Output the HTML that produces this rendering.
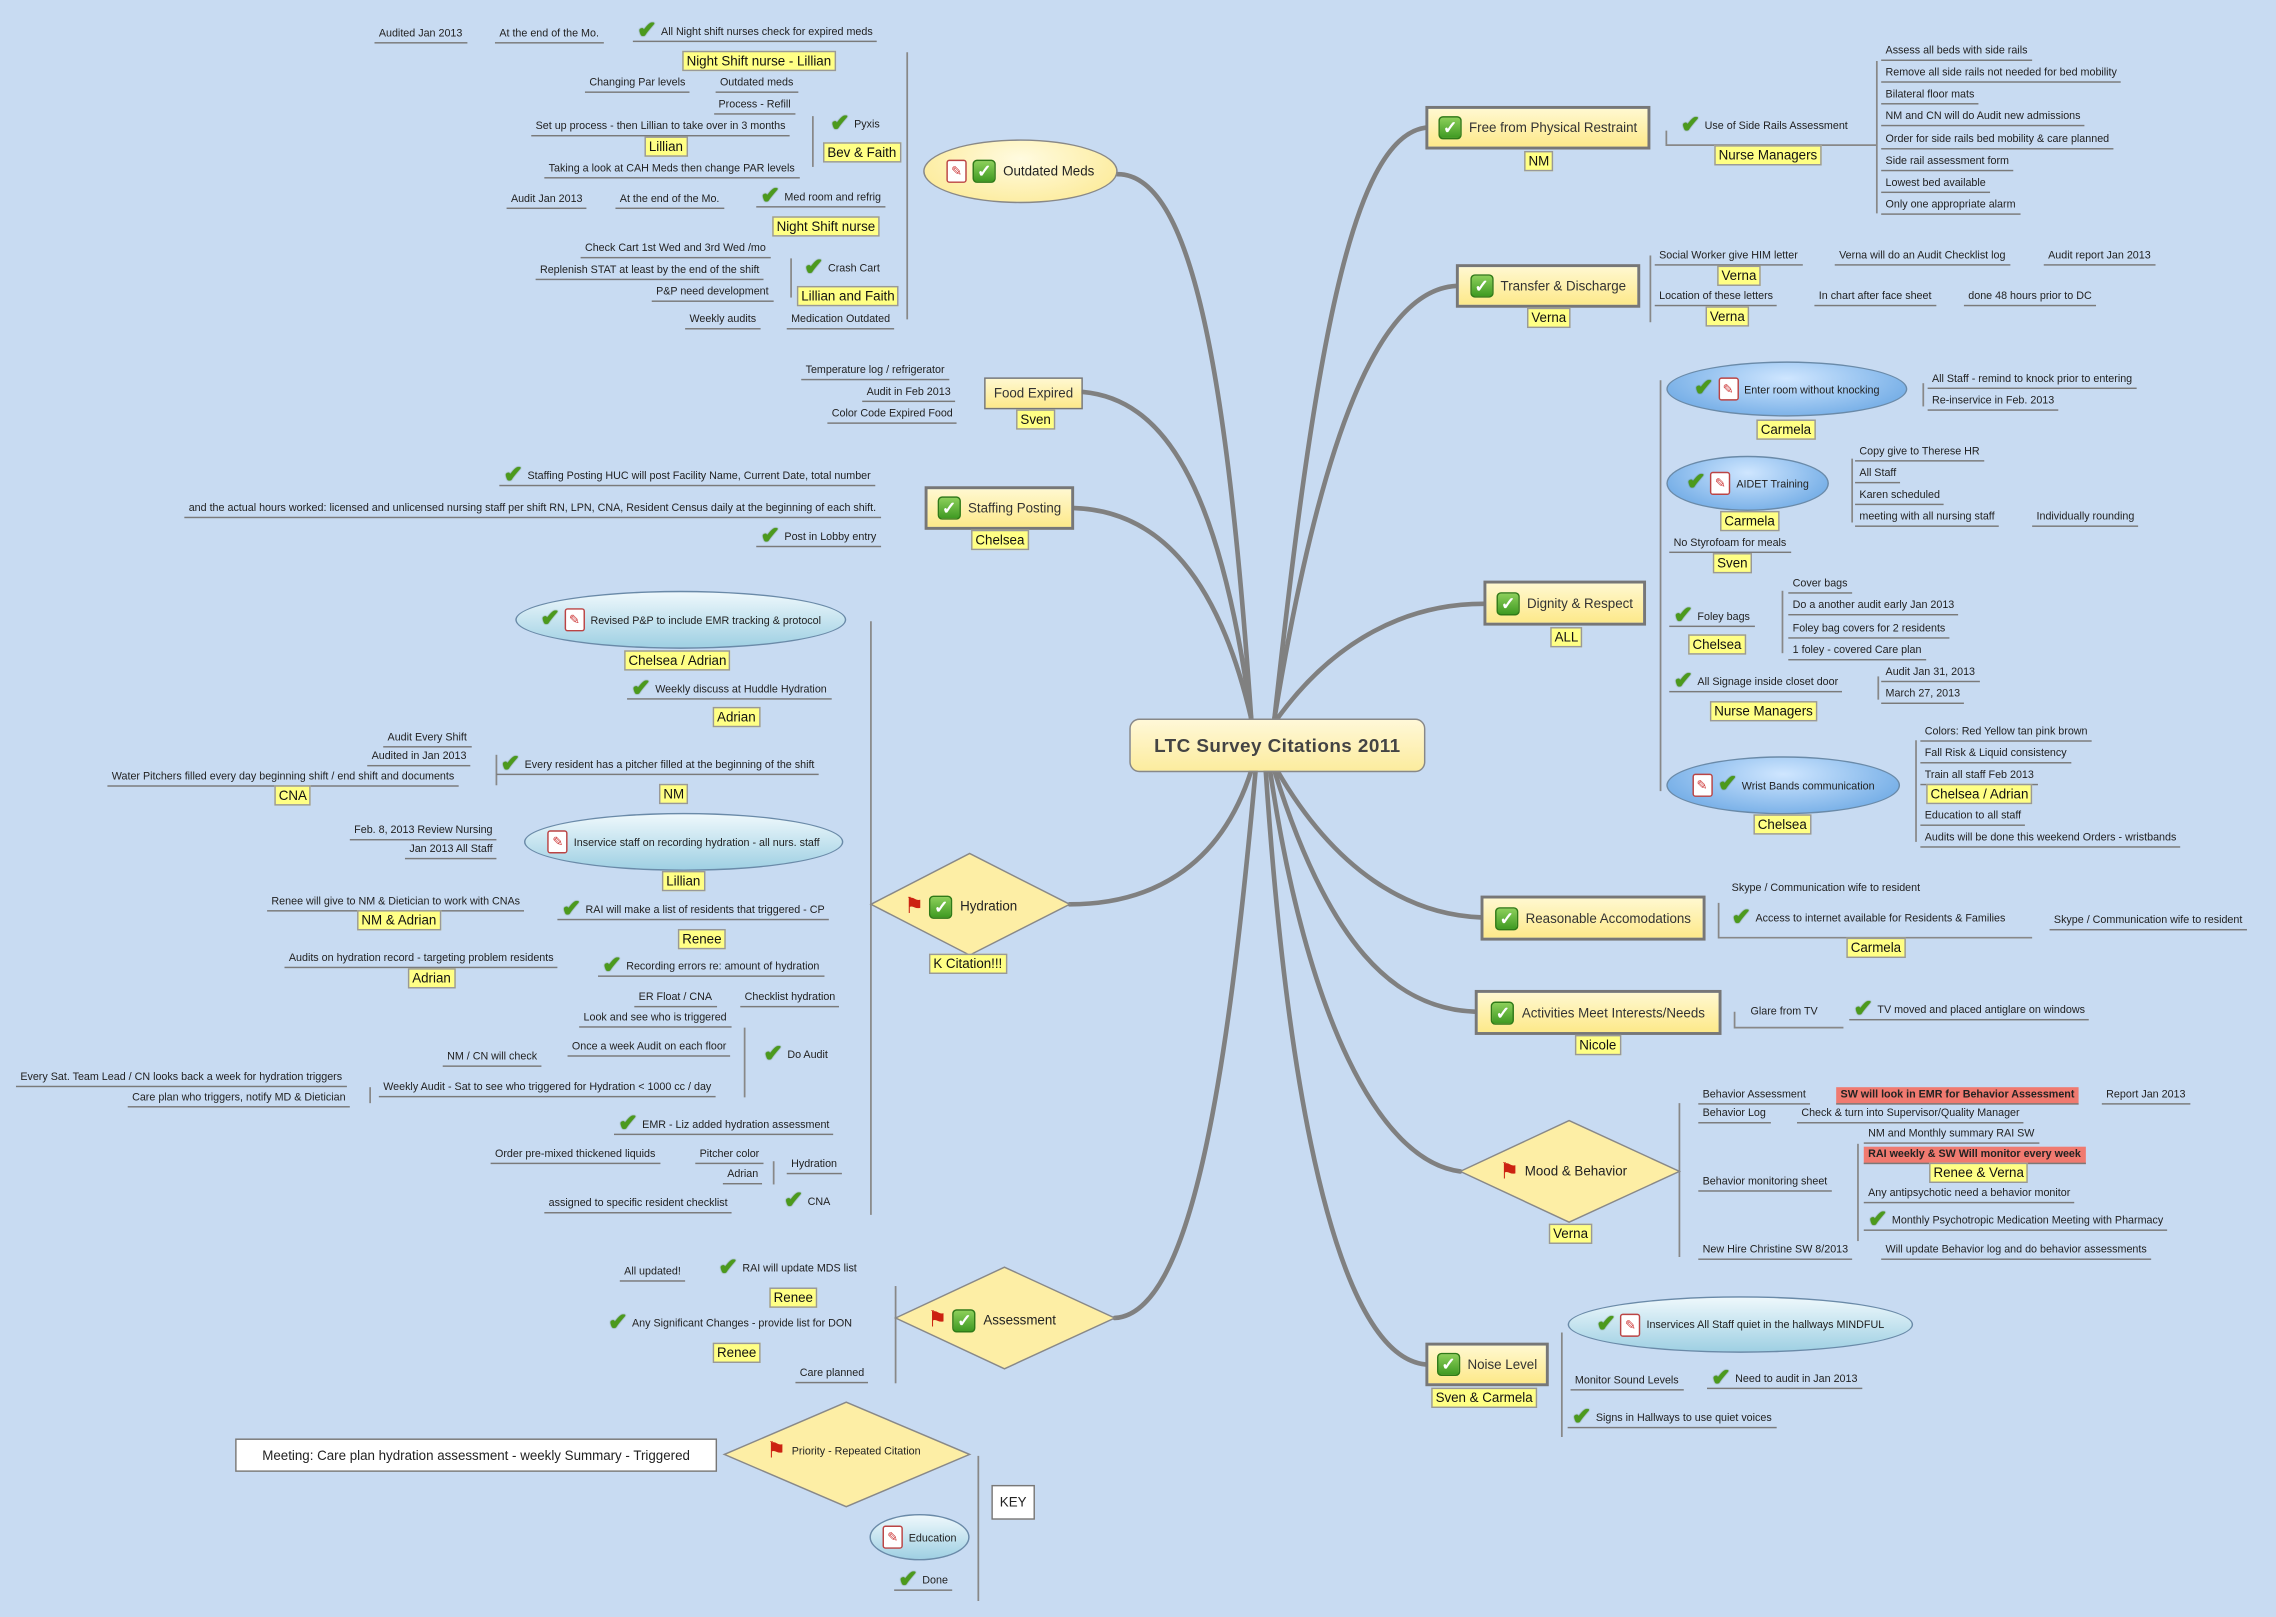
<!DOCTYPE html>
<html><head><meta charset="utf-8">
<style>
html,body{margin:0;padding:0;}
body{width:2276px;height:1617px;overflow:hidden;background:#c8dbf2;font-family:"Liberation Sans",sans-serif;}
#w{position:absolute;left:0;top:0;width:1568px;height:1114px;transform:scale(1.45153);transform-origin:0 0;}
svg.bg{position:absolute;left:0;top:0;}
.t{position:absolute;font-size:7.4px;line-height:10px;white-space:nowrap;color:#222;border-bottom:1px solid #7a7a7a;padding:0 3px 1px 3px;}
.n{border-bottom:none;}
.y{position:absolute;font-size:9.2px;line-height:12px;white-space:nowrap;color:#111;background:#ffff85;border:1px solid #999;padding:0 2px;}
.m{position:absolute;box-sizing:border-box;border:2px solid #777;background:linear-gradient(#fff8d0,#fde98a);font-size:9.2px;color:#333;display:flex;align-items:center;justify-content:center;white-space:nowrap;}
.c{position:absolute;box-sizing:border-box;border:1.5px solid #888;border-radius:7px;background:linear-gradient(#fff8d8,#fcec9e);font-size:13px;font-weight:bold;color:#444;display:flex;align-items:center;justify-content:center;letter-spacing:.3px;}
.ck{display:inline-block;color:#4c9a1c;font-size:16px;font-weight:bold;line-height:10px;vertical-align:middle;margin-right:3px;text-shadow:0 0 1px #2a6010;}
.bx{display:inline-block;width:14px;height:14px;border-radius:3px;background:linear-gradient(#8ccf5a,#3f9a22);color:#fff;font-size:12px;line-height:14px;text-align:center;font-weight:bold;vertical-align:middle;margin-right:5px;border:1px solid #2f7a18;}
.nt{display:inline-block;width:12px;height:14px;background:#fff;border:1px solid #b44;border-radius:2px;vertical-align:middle;margin-right:4px;color:#c33;font-size:9px;line-height:14px;text-align:center;}
.fl{display:inline-block;color:#c21;font-size:15px;line-height:10px;vertical-align:middle;margin-right:4px;}
.bb{position:absolute;box-sizing:border-box;border:1px solid #6a8aa8;border-radius:50%;display:flex;align-items:center;justify-content:center;font-size:7.4px;white-space:nowrap;color:#222;}
.bl{background:radial-gradient(ellipse at 50% 30%,#cfe6ff,#5d9fe0);}
.bc{background:linear-gradient(#eef8fc,#9fd0e3);}
.red{background:#f07a70;}
.k{position:absolute;background:#fff;border:1px solid #777;font-size:9.2px;display:flex;align-items:center;justify-content:center;white-space:nowrap;color:#222;}
</style></head><body><div id="w">
<svg class="bg" width="1568" height="1114" viewBox="0 0 1568 1114">
<g fill="none" stroke="#808080" stroke-width="3.2" stroke-linecap="round">
<path d="M878,495 C905,250 930,95 982,88"/>
<path d="M878,495 C910,300 950,200 1003,197"/>
<path d="M880,495 C920,440 970,416 1022,416"/>
<path d="M880,531 C920,600 970,630 1020,632"/>
<path d="M878,531 C915,650 960,695 1016,697"/>
<path d="M875,531 C900,700 950,800 1006,807"/>
<path d="M872,531 C890,800 930,935 982,940"/>
<path d="M862,495 C845,250 820,120 770,120"/>
<path d="M862,495 C840,330 800,275 746,270"/>
<path d="M862,495 C840,400 800,352 740,350"/>
<path d="M862,531 C840,600 790,623 737,623"/>
<path d="M865,531 C845,750 820,905 768,908"/>
</g>
<g fill="none" stroke="#888" stroke-width="1.2">
<path d="M625,36 V220"/><path d="M560,80 V115"/><path d="M545,178 V205"/>
<path d="M1293,42 V147"/><path d="M1148,90 V100 H1293"/>
<path d="M1137,176 V222"/><path d="M1144,262 V545"/>
<path d="M1276,316 V360"/><path d="M1228,407 V450"/><path d="M1294,466 V482"/><path d="M1320,510 V580"/><path d="M1325,264 V280"/>
<path d="M1184,622 V646 H1400"/><path d="M1195,697 V708 H1270"/>
<path d="M1157,760 V866"/><path d="M1280,788 V855"/>
<path d="M1076,918 V990"/>
<path d="M600,428 V837"/><path d="M513,708 V756"/><path d="M255,749 V760"/><path d="M533,800 V816"/><path d="M342,520 V541"/>
<path d="M617,886 V953"/><path d="M674,1003 V1103"/>
</g>
<g stroke="#888" stroke-width="1" fill="#fdeea5">
<polygon points="600,623 668,588 737,623 668,658"/>
<polygon points="1006,807 1081,772 1157,807 1081,842"/>
<polygon points="617,908 692,873 768,908 692,943"/>
<polygon points="499,1002 583,966 668,1002 583,1038"/>
</g>
</svg>

<div class="c" style="left:778px;top:495px;width:204px;height:37px">LTC Survey Citations 2011</div>

<div class="m" style="left:982px;top:73px;width:155px;height:30px"><span class="bx">✓</span>Free from Physical Restraint</div>
<div class="y" style="left:1050px;top:104px">NM</div>
<div class="t n" style="left:1155px;top:82px"><span class="ck">✔</span>Use of Side Rails Assessment</div>
<div class="y" style="left:1181px;top:100px">Nurse Managers</div>
<div class="t" style="left:1296px;top:30px">Assess all beds with side rails</div>
<div class="t" style="left:1296px;top:45px">Remove all side rails not needed for bed mobility</div>
<div class="t" style="left:1296px;top:60px">Bilateral floor mats</div>
<div class="t" style="left:1296px;top:75px">NM and CN will do Audit new admissions</div>
<div class="t" style="left:1296px;top:91px">Order for side rails bed mobility &amp; care planned</div>
<div class="t" style="left:1296px;top:106px">Side rail assessment form</div>
<div class="t" style="left:1296px;top:121px">Lowest bed available</div>
<div class="t" style="left:1296px;top:136px">Only one appropriate alarm</div>

<div class="m" style="left:1003px;top:182px;width:127px;height:30px"><span class="bx">✓</span>Transfer &amp; Discharge</div>
<div class="y" style="left:1052px;top:212px">Verna</div>
<div class="t" style="left:1140px;top:171px">Social Worker give HIM letter</div>
<div class="t" style="left:1264px;top:171px">Verna will do an Audit Checklist log</div>
<div class="t" style="left:1408px;top:171px">Audit report Jan 2013</div>
<div class="y" style="left:1183px;top:183px">Verna</div>
<div class="t" style="left:1140px;top:199px">Location of these letters</div>
<div class="t" style="left:1250px;top:199px">In chart after face sheet</div>
<div class="t" style="left:1353px;top:199px">done 48 hours prior to DC</div>
<div class="y" style="left:1175px;top:211px">Verna</div>

<div class="m" style="left:1022px;top:400px;width:112px;height:31px"><span class="bx">✓</span>Dignity &amp; Respect</div>
<div class="y" style="left:1068px;top:432px">ALL</div>
<div class="bb bl" style="left:1148px;top:249px;width:166px;height:38px"><span class="ck">✔</span><span class="nt">✎</span>Enter room without knocking</div>
<div class="y" style="left:1210px;top:289px">Carmela</div>
<div class="t" style="left:1328px;top:256px">All Staff - remind to knock prior to entering</div>
<div class="t" style="left:1328px;top:271px">Re-inservice in Feb. 2013</div>
<div class="bb bl" style="left:1148px;top:314px;width:112px;height:38px"><span class="ck">✔</span><span class="nt">✎</span>AIDET Training</div>
<div class="y" style="left:1185px;top:352px">Carmela</div>
<div class="t" style="left:1278px;top:306px">Copy give to Therese HR</div>
<div class="t" style="left:1278px;top:321px">All Staff</div>
<div class="t" style="left:1278px;top:336px">Karen scheduled</div>
<div class="t" style="left:1278px;top:351px">meeting with all nursing staff</div>
<div class="t" style="left:1400px;top:351px">Individually rounding</div>
<div class="t" style="left:1150px;top:369px">No Styrofoam for meals</div>
<div class="y" style="left:1180px;top:381px">Sven</div>
<div class="t" style="left:1150px;top:420px"><span class="ck">✔</span>Foley bags</div>
<div class="y" style="left:1163px;top:437px">Chelsea</div>
<div class="t" style="left:1232px;top:397px">Cover bags</div>
<div class="t" style="left:1232px;top:412px">Do a another audit early Jan 2013</div>
<div class="t" style="left:1232px;top:428px">Foley bag covers for 2 residents</div>
<div class="t" style="left:1232px;top:443px">1 foley - covered Care plan</div>
<div class="t" style="left:1150px;top:465px"><span class="ck">✔</span>All Signage inside closet door</div>
<div class="y" style="left:1178px;top:483px">Nurse Managers</div>
<div class="t" style="left:1296px;top:458px">Audit Jan 31, 2013</div>
<div class="t" style="left:1296px;top:473px">March 27, 2013</div>
<div class="bb bl" style="left:1148px;top:521px;width:161px;height:40px"><span class="nt">✎</span><span class="ck">✔</span>Wrist Bands communication</div>
<div class="y" style="left:1208px;top:561px">Chelsea</div>
<div class="t" style="left:1323px;top:499px">Colors:  Red Yellow tan pink brown</div>
<div class="t" style="left:1323px;top:514px">Fall Risk &amp; Liquid consistency</div>
<div class="t" style="left:1323px;top:529px">Train all staff Feb 2013</div>
<div class="y" style="left:1327px;top:540px">Chelsea / Adrian</div>
<div class="t" style="left:1323px;top:557px">Education to all staff</div>
<div class="t" style="left:1323px;top:572px">Audits will be done this weekend Orders - wristbands</div>

<div class="m" style="left:1020px;top:617px;width:155px;height:31px"><span class="bx">✓</span>Reasonable Accomodations</div>
<div class="t n" style="left:1190px;top:607px">Skype / Communication wife to resident</div>
<div class="t n" style="left:1190px;top:628px"><span class="ck">✔</span>Access to internet available for Residents &amp; Families</div>
<div class="t" style="left:1412px;top:629px">Skype / Communication wife to resident</div>
<div class="y" style="left:1272px;top:646px">Carmela</div>

<div class="m" style="left:1016px;top:682px;width:170px;height:31px"><span class="bx">✓</span>Activities Meet Interests/Needs</div>
<div class="y" style="left:1085px;top:713px">Nicole</div>
<div class="t n" style="left:1203px;top:692px">Glare from TV</div>
<div class="t" style="left:1274px;top:691px"><span class="ck">✔</span>TV moved and  placed antiglare on windows</div>

<div class="t n" style="left:1030px;top:802px;font-size:9.2px"><span class="fl">⚑</span>Mood &amp; Behavior</div>
<div class="y" style="left:1067px;top:843px">Verna</div>
<div class="t" style="left:1170px;top:749px">Behavior Assessment</div>
<div class="t red" style="left:1265px;top:749px;font-weight:bold">SW will look in EMR for Behavior Assessment</div>
<div class="t" style="left:1448px;top:749px">Report Jan 2013</div>
<div class="t" style="left:1170px;top:762px">Behavior Log</div>
<div class="t" style="left:1238px;top:762px">Check &amp; turn into Supervisor/Quality Manager</div>
<div class="t" style="left:1170px;top:809px">Behavior monitoring sheet</div>
<div class="t" style="left:1284px;top:776px">NM and Monthly summary RAI SW</div>
<div class="t red" style="left:1284px;top:790px;font-weight:bold">RAI weekly &amp; SW Will monitor every week</div>
<div class="y" style="left:1329px;top:801px">Renee &amp; Verna</div>
<div class="t" style="left:1284px;top:817px">Any antipsychotic need a behavior monitor</div>
<div class="t" style="left:1284px;top:836px"><span class="ck">✔</span>Monthly Psychotropic Medication Meeting with Pharmacy</div>
<div class="t" style="left:1170px;top:856px">New Hire Christine SW 8/2013</div>
<div class="t" style="left:1296px;top:856px">Will update Behavior log and do behavior assessments</div>

<div class="m" style="left:982px;top:925px;width:85px;height:30px"><span class="bx">✓</span>Noise Level</div>
<div class="y" style="left:986px;top:956px">Sven &amp; Carmela</div>
<div class="bb bc" style="left:1080px;top:893px;width:238px;height:39px"><span class="ck">✔</span><span class="nt">✎</span>Inservices All Staff quiet in the hallways MINDFUL</div>
<div class="t" style="left:1082px;top:946px">Monitor Sound Levels</div>
<div class="t" style="left:1176px;top:945px"><span class="ck">✔</span>Need to audit in Jan 2013</div>
<div class="t" style="left:1080px;top:972px"><span class="ck">✔</span>Signs in Hallways to use quiet voices</div>

<div class="bb" style="left:636px;top:96px;width:134px;height:44px;background:radial-gradient(ellipse at 50% 30%,#fffbe0,#fce88c);border-color:#888;font-size:9.2px"><span class="nt">✎</span><span class="bx">✓</span>Outdated Meds</div>
<div class="t" style="left:258px;top:18px">Audited Jan 2013</div>
<div class="t" style="left:341px;top:18px">At the end of the Mo.</div>
<div class="t" style="left:436px;top:17px"><span class="ck">✔</span>All Night shift nurses check for expired meds</div>
<div class="y" style="left:470px;top:35px">Night Shift nurse - Lillian</div>
<div class="t" style="left:403px;top:52px">Changing Par levels</div>
<div class="t" style="left:493px;top:52px">Outdated meds</div>
<div class="t" style="left:492px;top:67px">Process - Refill</div>
<div class="t" style="left:366px;top:82px">Set up process - then Lillian to take over in 3 months</div>
<div class="y" style="left:444px;top:94px">Lillian</div>
<div class="t" style="left:375px;top:111px">Taking a look at CAH Meds then change PAR levels</div>
<div class="t n" style="left:569px;top:81px"><span class="ck">✔</span>Pyxis</div>
<div class="y" style="left:567px;top:98px">Bev &amp; Faith</div>
<div class="t" style="left:349px;top:132px">Audit Jan 2013</div>
<div class="t" style="left:424px;top:132px">At the end of the Mo.</div>
<div class="t" style="left:521px;top:131px"><span class="ck">✔</span>Med room and refrig</div>
<div class="y" style="left:532px;top:149px">Night Shift nurse</div>
<div class="t" style="left:400px;top:166px">Check Cart 1st Wed and 3rd Wed /mo</div>
<div class="t" style="left:369px;top:181px">Replenish STAT at  least by the end of the shift</div>
<div class="t" style="left:449px;top:196px">P&amp;P need development</div>
<div class="t n" style="left:551px;top:180px"><span class="ck">✔</span>Crash Cart</div>
<div class="y" style="left:549px;top:197px">Lillian and Faith</div>
<div class="t" style="left:472px;top:215px">Weekly audits</div>
<div class="t" style="left:542px;top:215px">Medication Outdated</div>

<div class="m" style="left:678px;top:260px;width:68px;height:22px;border-width:1.5px">Food Expired</div>
<div class="y" style="left:700px;top:282px">Sven</div>
<div class="t" style="left:552px;top:250px">Temperature log / refrigerator</div>
<div class="t" style="left:594px;top:265px">Audit in Feb 2013</div>
<div class="t" style="left:570px;top:280px">Color Code Expired Food</div>

<div class="m" style="left:637px;top:335px;width:103px;height:30px"><span class="bx">✓</span>Staffing Posting</div>
<div class="y" style="left:669px;top:365px">Chelsea</div>
<div class="t" style="left:344px;top:323px"><span class="ck">✔</span>Staffing Posting HUC will post Facility Name, Current Date, total number</div>
<div class="t" style="left:127px;top:345px">and the actual hours worked:  licensed and unlicensed nursing staff per shift RN, LPN, CNA, Resident Census daily at the beginning of each shift.</div>
<div class="t" style="left:521px;top:365px"><span class="ck">✔</span>Post in Lobby entry</div>

<div class="t n" style="left:620px;top:617px;font-size:9.2px"><span class="fl">⚑</span><span class="bx">✓</span>Hydration</div>
<div class="y" style="left:640px;top:657px">K Citation!!!</div>
<div class="bb bc" style="left:355px;top:407px;width:228px;height:40px"><span class="ck">✔</span><span class="nt">✎</span>Revised P&amp;P to include EMR tracking &amp; protocol</div>
<div class="y" style="left:430px;top:448px">Chelsea / Adrian</div>
<div class="t" style="left:432px;top:470px"><span class="ck">✔</span>Weekly discuss at Huddle Hydration</div>
<div class="y" style="left:491px;top:487px">Adrian</div>
<div class="t" style="left:264px;top:503px">Audit Every Shift</div>
<div class="t" style="left:253px;top:516px">Audited in Jan 2013</div>
<div class="t" style="left:74px;top:530px">Water Pitchers filled every day beginning shift / end shift and documents</div>
<div class="y" style="left:189px;top:541px">CNA</div>
<div class="t" style="left:342px;top:522px"><span class="ck">✔</span>Every resident has a pitcher filled at the beginning of the shift</div>
<div class="y" style="left:454px;top:540px">NM</div>
<div class="bb bc" style="left:361px;top:560px;width:220px;height:40px"><span class="nt">✎</span>Inservice staff on recording hydration - all nurs. staff</div>
<div class="y" style="left:456px;top:600px">Lillian</div>
<div class="t" style="left:241px;top:567px">Feb. 8, 2013 Review Nursing</div>
<div class="t" style="left:279px;top:580px">Jan 2013 All Staff</div>
<div class="t" style="left:184px;top:616px">Renee will give to NM &amp; Dietician to work with CNAs</div>
<div class="y" style="left:246px;top:627px">NM &amp; Adrian</div>
<div class="t" style="left:384px;top:622px"><span class="ck">✔</span>RAI will make a list of residents that triggered - CP</div>
<div class="y" style="left:467px;top:640px">Renee</div>
<div class="t" style="left:196px;top:655px">Audits on hydration record - targeting problem residents</div>
<div class="y" style="left:281px;top:667px">Adrian</div>
<div class="t" style="left:412px;top:661px"><span class="ck">✔</span>Recording errors re:  amount of hydration</div>
<div class="t" style="left:437px;top:682px">ER Float / CNA</div>
<div class="t" style="left:510px;top:682px">Checklist hydration</div>
<div class="t" style="left:399px;top:696px">Look and see who is triggered</div>
<div class="t" style="left:391px;top:716px">Once a week Audit on each floor</div>
<div class="t" style="left:305px;top:723px">NM / CN will check</div>
<div class="t n" style="left:523px;top:722px"><span class="ck">✔</span>Do Audit</div>
<div class="t" style="left:261px;top:744px">Weekly Audit - Sat  to see who triggered for Hydration &lt; 1000 cc / day</div>
<div class="t" style="left:11px;top:737px">Every Sat.  Team Lead / CN looks back a week for hydration triggers</div>
<div class="t" style="left:88px;top:751px">Care plan who triggers, notify MD &amp; Dietician</div>
<div class="t" style="left:423px;top:770px"><span class="ck">✔</span>EMR - Liz added hydration assessment</div>
<div class="t" style="left:338px;top:790px">Order pre-mixed thickened liquids</div>
<div class="t" style="left:479px;top:790px">Pitcher color</div>
<div class="t" style="left:498px;top:804px">Adrian</div>
<div class="t" style="left:542px;top:797px">Hydration</div>
<div class="t" style="left:375px;top:824px">assigned to specific resident checklist</div>
<div class="t n" style="left:537px;top:823px"><span class="ck">✔</span>CNA</div>

<div class="t n" style="left:636px;top:902px;font-size:9.2px"><span class="fl">⚑</span><span class="bx">✓</span>Assessment</div>
<div class="t" style="left:427px;top:871px">All updated!</div>
<div class="t n" style="left:492px;top:869px"><span class="ck">✔</span>RAI will update MDS list</div>
<div class="y" style="left:530px;top:887px">Renee</div>
<div class="t n" style="left:416px;top:907px"><span class="ck">✔</span>Any Significant Changes - provide list for DON</div>
<div class="y" style="left:491px;top:925px">Renee</div>
<div class="t" style="left:548px;top:941px">Care planned</div>

<div class="t n" style="left:525px;top:995px"><span class="fl">⚑</span>Priority - Repeated Citation</div>
<div class="k" style="left:162px;top:991px;width:330px;height:21px">Meeting:  Care plan hydration assessment - weekly Summary - Triggered</div>
<div class="k" style="left:683px;top:1023px;width:28px;height:22px">KEY</div>
<div class="bb bc" style="left:599px;top:1043px;width:69px;height:32px"><span class="nt">✎</span>Education</div>
<div class="t" style="left:616px;top:1084px"><span class="ck">✔</span>Done</div>
</div></body></html>
